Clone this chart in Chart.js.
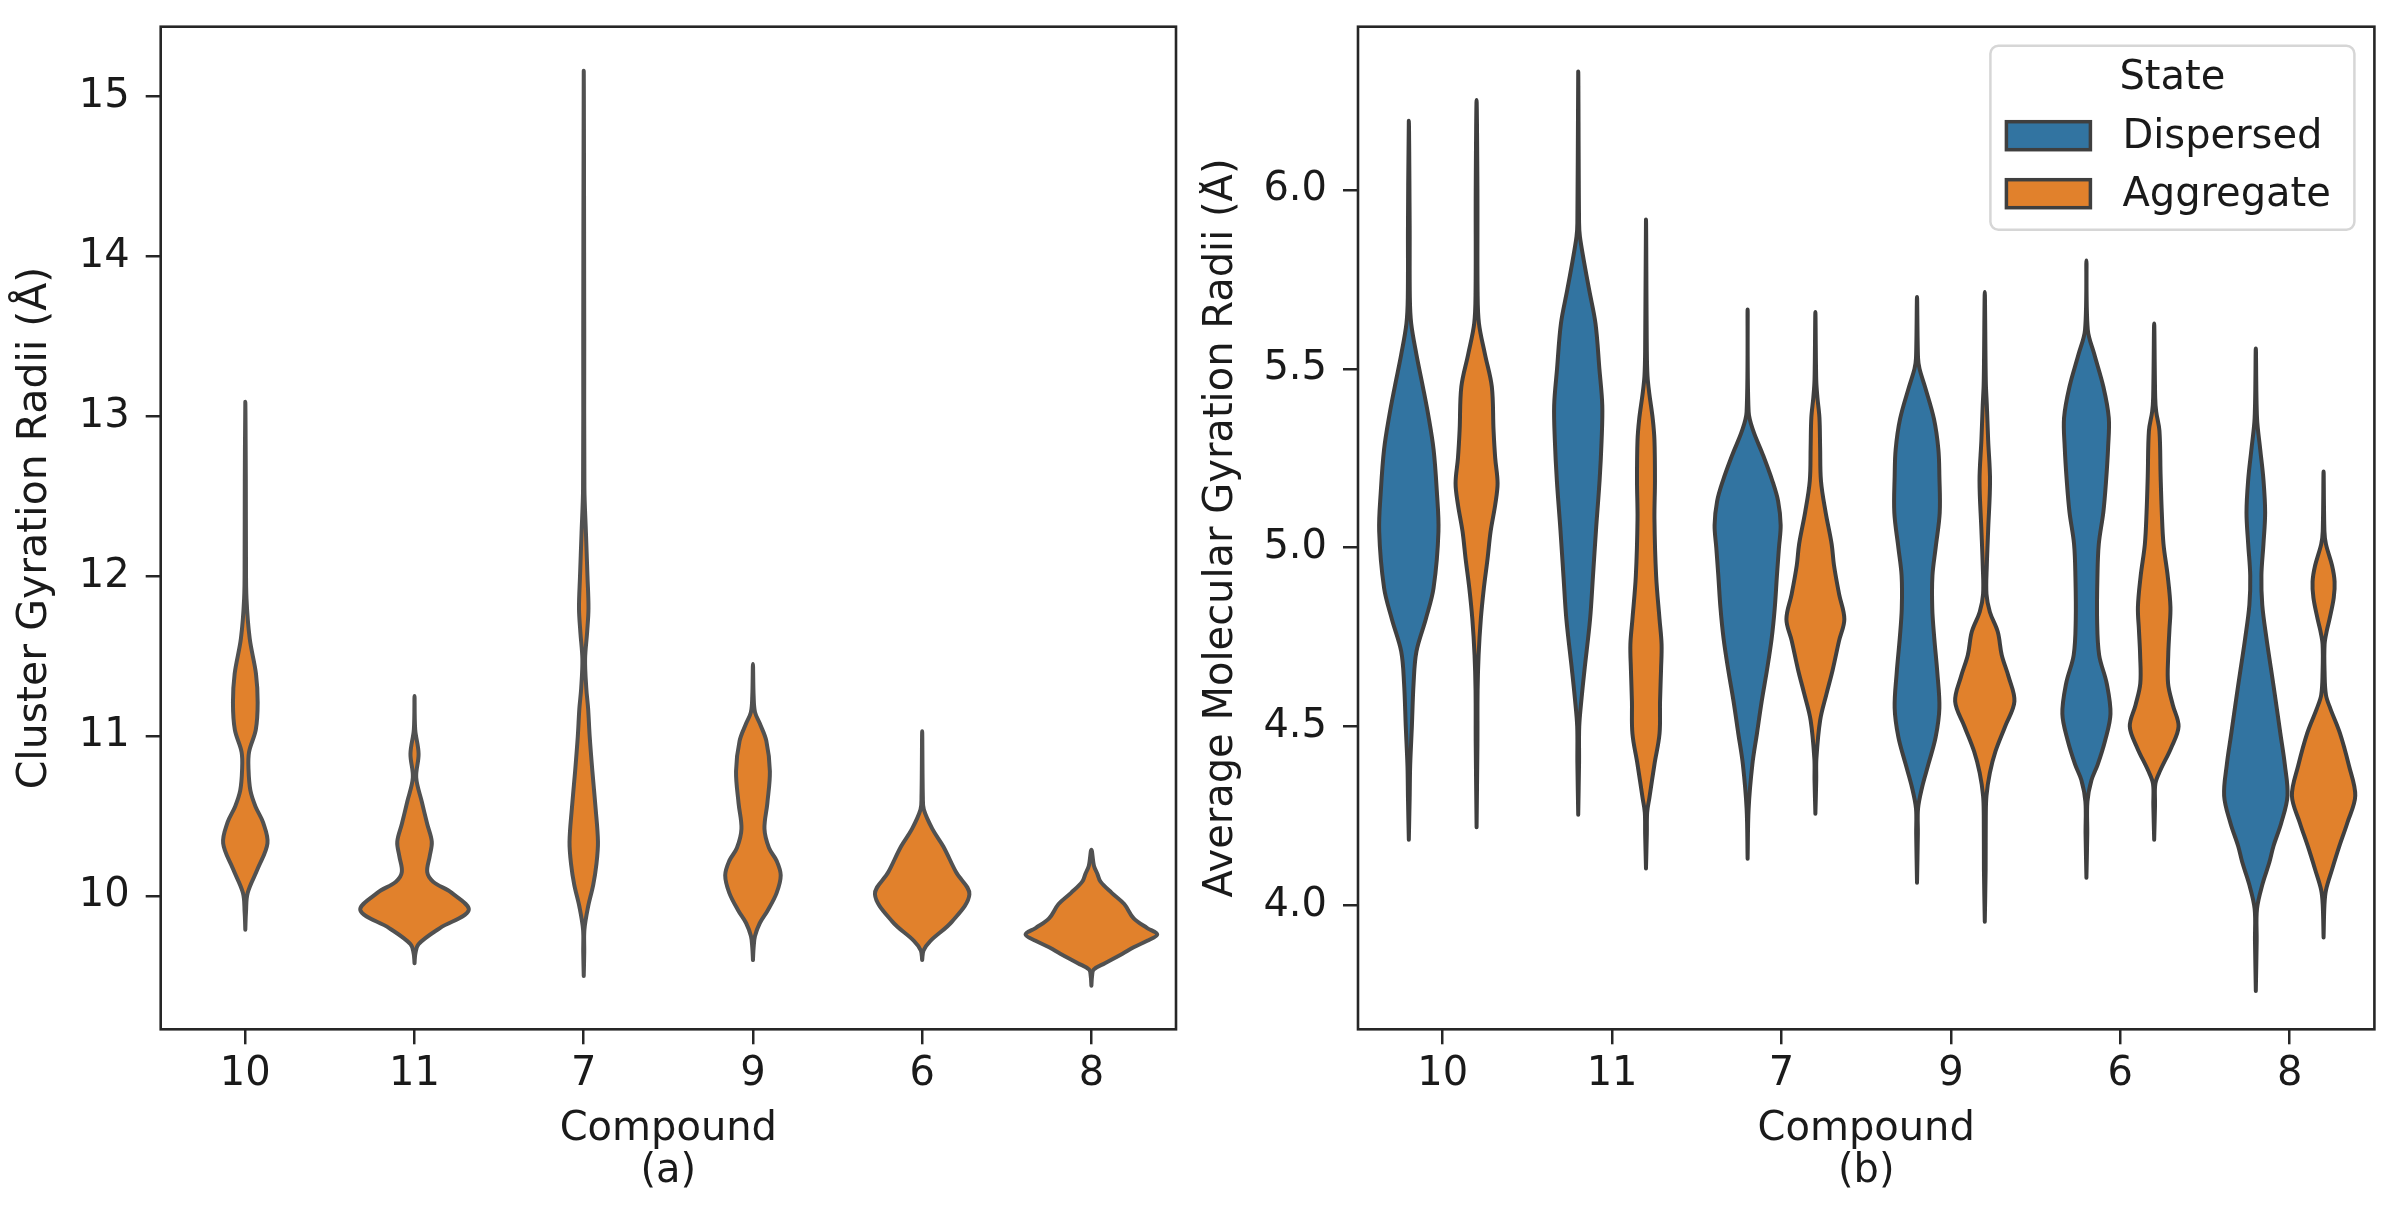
<!DOCTYPE html>
<html><head><meta charset="utf-8">
<script src="https://cdn.jsdelivr.net/npm/chart.js@4.4.1/dist/chart.umd.min.js"></script>
<style>
html,body{margin:0;padding:0;background:#fff;overflow:hidden;}
#wrap{position:relative;width:2398px;height:1209px;background:#fff;}
.panel{position:absolute;top:0;height:1209px;width:1199px;}
#pa{left:0;} #pb{left:1199px;}
</style></head><body>
<div id="wrap"><div class="panel" id="pa"><canvas id="ca"></canvas></div><div class="panel" id="pb"><canvas id="cb"></canvas></div></div>
<script>
// ---------- data ----------
const compounds = ['10', '11', '7', '9', '6', '8'];
const clusterTicks = [10, 11, 12, 13, 14, 15];
const molecularTicks = [4.0, 4.5, 5.0, 5.5, 6.0];
const states = ['Dispersed', 'Aggregate'];

// violin profiles: [radius value, half-width in category units], bottom to top
// (a) Cluster gyration radii (aggregate only)
const cluster10 = [[9.79,0],[9.9,0.004],[10.02,0.014],[10.17,0.073],[10.33,0.131],[10.46,0.105],[10.56,0.06],[10.66,0.03],[10.79,0.019],[10.9,0.022],[11.04,0.062],[11.21,0.073],[11.39,0.063],[11.61,0.026],[11.86,0.007],[12.11,0.004],[12.6,0.003],[13.09,0]];
const cluster11 = [[9.58,0],[9.64,0.005],[9.70,0.024],[9.80,0.15],[9.91,0.32],[10.02,0.22],[10.09,0.11],[10.15,0.075],[10.25,0.09],[10.34,0.102],[10.45,0.075],[10.59,0.043],[10.74,0.01],[10.89,0.024],[11.04,0.004],[11.25,0]];
const cluster7 = [[9.50,0],[9.65,0.003],[9.79,0.004],[9.93,0.025],[10.07,0.056],[10.2,0.075],[10.34,0.084],[10.55,0.07],[10.78,0.051],[11.0,0.035],[11.17,0.026],[11.3,0.015],[11.48,0.008],[11.65,0.02],[11.80,0.028],[12.0,0.022],[12.27,0.013],[12.55,0.004],[13.5,0.003],[15.16,0]];
const cluster9 = [[9.60,0],[9.68,0.004],[9.75,0.012],[9.83,0.04],[9.91,0.087],[10.02,0.14],[10.13,0.164],[10.22,0.14],[10.30,0.095],[10.42,0.068],[10.58,0.085],[10.78,0.10],[10.97,0.079],[11.08,0.04],[11.15,0.012],[11.25,0.004],[11.45,0]];
const cluster6 = [[9.60,0],[9.66,0.008],[9.72,0.049],[9.84,0.176],[10.01,0.279],[10.15,0.2],[10.31,0.125],[10.42,0.06],[10.54,0.01],[10.62,0.004],[11.03,0]];
const cluster8 = [[9.44,0],[9.50,0.004],[9.54,0.013],[9.58,0.08],[9.64,0.184],[9.68,0.25],[9.72,0.33],[9.76,0.389],[9.80,0.33],[9.86,0.25],[9.95,0.194],[10.02,0.12],[10.09,0.054],[10.14,0.035],[10.19,0.015],[10.29,0]];

// (b) Average molecular gyration radii, Dispersed
const dispersed10 = [[4.183,0],[4.30,0.005],[4.39,0.008],[4.50,0.018],[4.62,0.028],[4.71,0.045],[4.80,0.10],[4.887,0.146],[5.046,0.175],[5.16,0.165],[5.275,0.146],[5.37,0.115],[5.45,0.083],[5.54,0.045],[5.627,0.014],[5.70,0.006],[5.9,0.005],[6.194,0]];
const dispersed11 = [[4.253,0],[4.40,0.005],[4.50,0.006],[4.58,0.02],[4.658,0.037],[4.80,0.07],[4.92,0.087],[5.05,0.105],[5.187,0.126],[5.30,0.138],[5.398,0.142],[5.50,0.125],[5.627,0.102],[5.72,0.065],[5.803,0.033],[5.87,0.01],[5.909,0.005],[6.332,0]];
const dispersed7 = [[4.13,0],[4.27,0.006],[4.394,0.028],[4.48,0.055],[4.57,0.083],[4.66,0.115],[4.746,0.142],[4.83,0.16],[4.922,0.173],[5.0,0.185],[5.063,0.195],[5.13,0.18],[5.187,0.146],[5.26,0.09],[5.327,0.033],[5.38,0.006],[5.666,0]];
const dispersed9 = [[4.063,0],[4.20,0.005],[4.27,0.006],[4.33,0.03],[4.394,0.067],[4.47,0.11],[4.552,0.132],[4.65,0.12],[4.746,0.102],[4.83,0.09],[4.922,0.091],[5.0,0.11],[5.098,0.134],[5.2,0.132],[5.275,0.126],[5.36,0.1],[5.45,0.047],[5.50,0.015],[5.53,0.006],[5.701,0]];
const dispersed6 = [[4.077,0],[4.2,0.005],[4.29,0.006],[4.35,0.03],[4.394,0.067],[4.46,0.11],[4.535,0.142],[4.62,0.12],[4.70,0.075],[4.80,0.063],[4.92,0.065],[5.01,0.073],[5.10,0.1],[5.187,0.116],[5.28,0.128],[5.363,0.132],[5.45,0.1],[5.54,0.047],[5.61,0.008],[5.803,0]];
const dispersed8 = [[3.76,0],[3.90,0.005],[3.99,0.007],[4.06,0.04],[4.12,0.08],[4.165,0.104],[4.23,0.15],[4.306,0.187],[4.394,0.171],[4.48,0.145],[4.57,0.118],[4.66,0.09],[4.746,0.063],[4.84,0.038],[4.922,0.033],[5.01,0.045],[5.098,0.055],[5.19,0.045],[5.275,0.026],[5.363,0.007],[5.557,0]];

// (b) Average molecular gyration radii, Aggregate
const aggregate10 = [[4.218,0],[4.45,0.005],[4.60,0.006],[4.70,0.012],[4.80,0.025],[4.887,0.043],[4.97,0.065],[5.046,0.083],[5.12,0.11],[5.18,0.124],[5.25,0.11],[5.33,0.1],[5.45,0.09],[5.54,0.05],[5.627,0.014],[5.715,0.006],[6.0,0.005],[6.252,0]];
const aggregate11 = [[4.103,0],[4.20,0.005],[4.26,0.007],[4.30,0.02],[4.394,0.05],[4.48,0.08],[4.57,0.083],[4.66,0.089],[4.73,0.092],[4.80,0.08],[4.92,0.06],[5.08,0.05],[5.187,0.053],[5.30,0.05],[5.36,0.04],[5.43,0.02],[5.48,0.009],[5.55,0.005],[5.918,0]];
const aggregate7 = [[4.256,0],[4.35,0.005],[4.41,0.006],[4.517,0.028],[4.59,0.065],[4.658,0.102],[4.74,0.14],[4.80,0.171],[4.87,0.14],[4.95,0.11],[5.01,0.096],[5.10,0.06],[5.187,0.033],[5.28,0.028],[5.363,0.024],[5.42,0.012],[5.47,0.005],[5.659,0]];
const aggregate9 = [[3.954,0],[4.10,0.005],[4.25,0.006],[4.306,0.01],[4.37,0.03],[4.43,0.063],[4.50,0.12],[4.57,0.175],[4.64,0.14],[4.70,0.1],[4.764,0.077],[4.82,0.03],[4.87,0.01],[4.95,0.012],[5.05,0.02],[5.187,0.031],[5.30,0.02],[5.40,0.012],[5.45,0.007],[5.50,0.005],[5.715,0]];
const aggregate6 = [[4.183,0],[4.28,0.005],[4.34,0.007],[4.376,0.035],[4.44,0.1],[4.50,0.144],[4.56,0.11],[4.62,0.082],[4.70,0.083],[4.77,0.09],[4.834,0.096],[4.92,0.08],[5.01,0.055],[5.098,0.045],[5.2,0.038],[5.327,0.031],[5.38,0.012],[5.42,0.006],[5.627,0]];
const aggregate8 = [[3.91,0],[4.0,0.005],[4.042,0.014],[4.10,0.05],[4.165,0.093],[4.23,0.14],[4.306,0.187],[4.39,0.15],[4.482,0.096],[4.55,0.04],[4.588,0.014],[4.65,0.006],[4.73,0.006],[4.77,0.02],[4.80,0.035],[4.86,0.06],[4.905,0.065],[4.95,0.05],[5.01,0.014],[5.046,0.005],[5.213,0]];

const clusterProfiles = [cluster10, cluster11, cluster7, cluster9, cluster6, cluster8];
const dispersedProfiles = [dispersed10, dispersed11, dispersed7, dispersed9, dispersed6, dispersed8];
const aggregateProfiles = [aggregate10, aggregate11, aggregate7, aggregate9, aggregate6, aggregate8];

// ---------- styling ----------
const FONT = 'DejaVu Sans';
const BLUE = '#3274a1', ORANGE = '#e1812c';
const TEXT = '#1a1a1a', FRAME = '#262626';
Chart.defaults.font.family = FONT;
Chart.defaults.color = TEXT;

function violinPoints(profile, center) {
  const right = profile.map(([v, w]) => ({x: center + w, y: v}));
  const left = profile.slice(0, -1).reverse().map(([v, w]) => ({x: center - w, y: v}));
  return right.concat(left);
}
function violinDataset(profile, center, fillColor, edgeColor, label) {
  return {
    label, data: violinPoints(profile, center), showLine: true, fill: 'shape',
    backgroundColor: fillColor, borderColor: edgeColor, borderWidth: 4,
    borderJoinStyle: 'round', borderCapStyle: 'round',
    pointRadius: 0, pointHoverRadius: 0, tension: 0.35
  };
}

const framePlugin = {
  id: 'frame',
  afterDatasetsDraw(chart) {
    const {ctx, chartArea: a} = chart;
    ctx.save();
    ctx.strokeStyle = FRAME; ctx.lineWidth = 2.6;
    ctx.strokeRect(a.left, a.top, a.right - a.left, a.bottom - a.top);
    ctx.restore();
  }
};

const legendPlugin = {
  id: 'stateLegend',
  afterDraw(chart) {
    const {ctx, chartArea: a} = chart;
    const w = 364, h = 184;
    const x = a.right - 20 - w, y = a.top + 19;
    ctx.save();
    ctx.beginPath();
    ctx.roundRect(x, y, w, h, 8);
    ctx.fillStyle = 'rgba(255,255,255,0.8)'; ctx.fill();
    ctx.strokeStyle = '#d6d6d6'; ctx.lineWidth = 2.5; ctx.stroke();
    ctx.font = '40px "' + FONT + '"';
    ctx.fillStyle = TEXT; ctx.textBaseline = 'middle';
    ctx.textAlign = 'center';
    ctx.fillText('State', x + w / 2, y + 33);
    const colors = [BLUE, ORANGE];
    const rows = [90, 148];
    ctx.textAlign = 'left';
    states.forEach((s, i) => {
      ctx.fillStyle = colors[i];
      ctx.fillRect(x + 16, y + rows[i] - 14, 84, 28);
      ctx.strokeStyle = '#3f3f3f'; ctx.lineWidth = 3.5;
      ctx.strokeRect(x + 16, y + rows[i] - 14, 84, 28);
      ctx.fillStyle = TEXT;
      ctx.fillText(s, x + 132, y + rows[i] + 2);
    });
    ctx.restore();
  }
};

function makeOptions(cfg) {
  return {
    responsive: true, maintainAspectRatio: false, animation: false,
    devicePixelRatio: 1,
    layout: {padding: {top: 26.7, right: cfg.padRight, left: 0, bottom: 0}},
    plugins: {legend: {display: false}, tooltip: {enabled: false}},
    scales: {
      x: {
        type: 'linear', min: -0.5, max: 5.5,
        afterBuildTicks: (s) => { s.ticks = compounds.map((_, i) => ({value: i})); },
        afterFit: (s) => { s.height = 1209 - cfg.bottom; s.paddingLeft = 0; s.paddingRight = 0; },
        ticks: {callback: (v) => compounds[Math.round(v)], font: {size: 40}, color: TEXT, padding: 6, maxRotation: 0, autoSkip: false},
        grid: {display: true, drawOnChartArea: false, drawTicks: true, tickLength: 15, color: FRAME, lineWidth: 2.5},
        border: {display: false},
        title: {display: true, text: ['Compound', cfg.sub], font: {size: 40, lineHeight: 1.06}, color: TEXT, padding: {top: 0, bottom: 16}}
      },
      y: {
        type: 'linear', min: cfg.ymin, max: cfg.ymax,
        afterBuildTicks: (s) => { s.ticks = cfg.ticks.map(v => ({value: v})); },
        afterFit: (s) => { s.width = cfg.left; s.paddingTop = 0; s.paddingBottom = 0; },
        ticks: {callback: cfg.fmt, font: {size: 40}, color: TEXT, padding: 16, autoSkip: false},
        grid: {display: true, drawOnChartArea: false, drawTicks: true, tickLength: 15, color: FRAME, lineWidth: 2.5},
        border: {display: false},
        title: {display: true, text: cfg.ytitle, font: {size: cfg.titleSize, lineHeight: 1.05}, color: TEXT, padding: {top: cfg.titlePad, bottom: 0}}
      }
    }
  };
}

// (a)
new Chart(document.getElementById('ca'), {
  type: 'scatter',
  data: {datasets: clusterProfiles.map((p, i) => violinDataset(p, i, ORANGE, '#515151', compounds[i]))},
  options: makeOptions({padRight: 23, bottom: 1029.3, left: 160.7, ymin: 9.167, ymax: 15.435,
    ticks: clusterTicks, fmt: (v) => String(v), ytitle: 'Cluster Gyration Radii (Å)', titlePad: 13.5, titleSize: 41, sub: '(a)'}),
  plugins: [framePlugin]
});

// (b)
const dsB = [];
compounds.forEach((c, i) => {
  dsB.push(violinDataset(dispersedProfiles[i], i - 0.2, BLUE, '#3f3f3f', states[0] + ' ' + c));
  dsB.push(violinDataset(aggregateProfiles[i], i + 0.2, ORANGE, '#3f3f3f', states[1] + ' ' + c));
});
new Chart(document.getElementById('cb'), {
  type: 'scatter',
  data: {datasets: dsB},
  options: makeOptions({padRight: 23.6, bottom: 1029.3, left: 159, ymin: 3.653, ymax: 6.457,
    ticks: molecularTicks, fmt: (v) => Number(v).toFixed(1), ytitle: 'Average Molecular Gyration Radii (Å)', titlePad: 2, titleSize: 40, sub: '(b)'}),
  plugins: [framePlugin, legendPlugin]
});
</script>
</body></html>
